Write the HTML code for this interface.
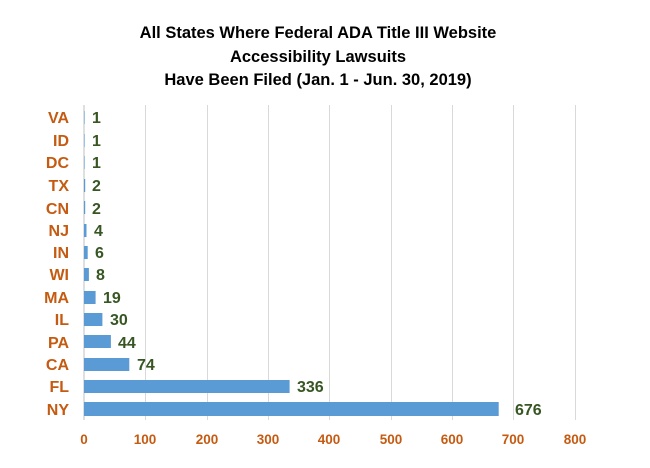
<!DOCTYPE html>
<html><head><style>
body{margin:0;background:#fff;}
</style></head><body>
<svg width="650" height="463" xmlns="http://www.w3.org/2000/svg" font-family="'Liberation Sans',sans-serif" font-weight="bold">
<g font-size="16.5" text-anchor="middle" fill="#000">
<text x="318" y="38">All States Where Federal ADA Title III Website</text>
<text x="318" y="62">Accessibility Lawsuits</text>
<text x="318" y="85">Have Been Filed  (Jan. 1 - Jun. 30, 2019)</text>
</g>
<g stroke="#d9d9d9" stroke-width="1">
<line x1="145.5" y1="105" x2="145.5" y2="420"/>
<line x1="207.5" y1="105" x2="207.5" y2="420"/>
<line x1="268.5" y1="105" x2="268.5" y2="420"/>
<line x1="329.5" y1="105" x2="329.5" y2="420"/>
<line x1="391.5" y1="105" x2="391.5" y2="420"/>
<line x1="452.5" y1="105" x2="452.5" y2="420"/>
<line x1="513.5" y1="105" x2="513.5" y2="420"/>
<line x1="575.5" y1="105" x2="575.5" y2="420"/>
</g>
<line x1="84" y1="105" x2="84" y2="420" stroke="#bfbfbf"/>
<g fill="#5B9BD5">
<rect x="84" y="111" width="0.6" height="13"/>
<rect x="84" y="134" width="0.6" height="13"/>
<rect x="84" y="156" width="0.6" height="13"/>
<rect x="84" y="179" width="1.2" height="13"/>
<rect x="84" y="201" width="1.2" height="13"/>
<rect x="84" y="224" width="2.5" height="13"/>
<rect x="84" y="246" width="3.7" height="13"/>
<rect x="84" y="268" width="4.9" height="13"/>
<rect x="84" y="291" width="11.6" height="13"/>
<rect x="84" y="313" width="18.4" height="13"/>
<rect x="84" y="335" width="26.9" height="13"/>
<rect x="84" y="358" width="45.3" height="13"/>
<rect x="84" y="380" width="205.6" height="13"/>
<rect x="84" y="402" width="414.7" height="14"/>
</g>
<g font-size="16" fill="#C55A11" text-anchor="end">
<text x="69" y="123">VA</text><text x="69" y="146">ID</text><text x="69" y="168">DC</text>
<text x="69" y="191">TX</text><text x="69" y="214">CN</text><text x="69" y="236">NJ</text>
<text x="69" y="258">IN</text><text x="69" y="280">WI</text><text x="69" y="303">MA</text>
<text x="69" y="325">IL</text><text x="69" y="348">PA</text><text x="69" y="370">CA</text>
<text x="69" y="392">FL</text><text x="69" y="415">NY</text>
</g>
<g font-size="16" fill="#375623">
<text x="92" y="123">1</text><text x="92" y="146">1</text><text x="92" y="168">1</text>
<text x="92" y="191">2</text><text x="92" y="214">2</text><text x="94" y="236">4</text>
<text x="95" y="258">6</text><text x="96" y="280">8</text><text x="103" y="303">19</text>
<text x="110" y="325">30</text><text x="118" y="348">44</text><text x="137" y="370">74</text>
<text x="297" y="392">336</text><text x="515" y="415">676</text>
</g>
<g font-size="13.5" fill="#C55A11" text-anchor="middle">
<text x="84" y="444">0</text><text x="145" y="444">100</text><text x="207" y="444">200</text>
<text x="268" y="444">300</text><text x="329" y="444">400</text><text x="391" y="444">500</text>
<text x="452" y="444">600</text><text x="513" y="444">700</text><text x="575" y="444">800</text>
</g>
</svg>
</body></html>
